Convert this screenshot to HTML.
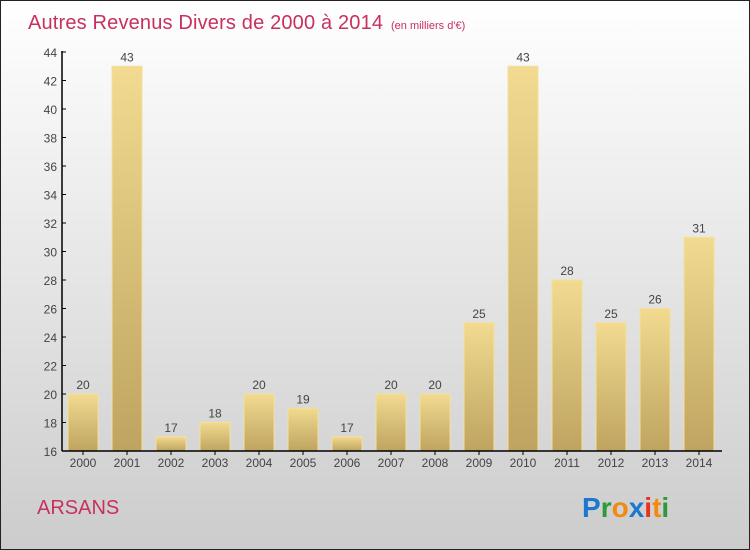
<!DOCTYPE html>
<html><head><meta charset="utf-8"><style>
body{margin:0;}
#wrap{position:relative;width:750px;height:550px;box-sizing:border-box;border:1px solid #222;background:linear-gradient(#fff,#ccc);font-family:"Liberation Sans",sans-serif;overflow:hidden}
</style></head><body>
<div id="wrap">
<svg width="748" height="548" style="position:absolute;left:0;top:0">
<defs>
<linearGradient id="bg" x1="0" y1="0" x2="0" y2="1"><stop offset="0" stop-color="#f2da90"/><stop offset="1" stop-color="#bea460"/></linearGradient>
</defs>
<text x="27" y="28" font-size="20" fill="#c8305e" textLength="355">Autres Revenus Divers de 2000 à 2014</text>
<text x="390" y="28" font-size="11" fill="#c8305e">(en milliers d'€)</text>
<g id="yax"></g>
<g id="bars"></g>
<g id="xax"></g>
<text x="36" y="513" font-size="20" fill="#c8305e">ARSANS</text>
<text x="581" y="516" font-size="28" font-weight="bold"><tspan fill="#1a78d0">P</tspan><tspan fill="#2a9a3a">r</tspan><tspan fill="#f08a10">o</tspan><tspan fill="#1a78d0">x</tspan><tspan fill="#e83020">i</tspan><tspan fill="#f08a10">t</tspan><tspan fill="#2a9a3a">i</tspan></text>
</svg>
</div>
<script>
const years=["2000","2001","2002","2003","2004","2005","2006","2007","2008","2009","2010","2011","2012","2013","2014"];
const values=[20,43,17,18,20,19,17,20,20,25,43,28,25,26,31];
const yTicks=[16,18,20,22,24,26,28,30,32,34,36,38,40,42,44];
const NS="http://www.w3.org/2000/svg";
const y=v=>450-(v-16)*(399/28);
const x=i=>67+i*44;
function mk(t,a,p){const e=document.createElementNS(NS,t);for(const k in a)e.setAttribute(k,a[k]);p.appendChild(e);return e;}
const ya=document.getElementById('yax'),xa=document.getElementById('xax'),bg=document.getElementById('bars');
mk('line',{x1:61,y1:50,x2:61,y2:450,stroke:'#000','stroke-width':1.5},ya);
yTicks.forEach(t=>{
 mk('line',{x1:61,y1:y(t),x2:65,y2:y(t),stroke:'#000'},ya);
 const tx=mk('text',{x:56,y:y(t)+5,'font-size':12,fill:'#444','text-anchor':'end'},ya);
 
 
 tx.textContent=t;
});
mk('line',{x1:61,y1:450,x2:721,y2:450,stroke:'#000','stroke-width':1.5},xa);
values.forEach((v,i)=>{
 const r=mk('rect',{x:x(i),y:y(v),width:30,height:450-y(v),fill:'url(#bg)',stroke:'#f5e09a','stroke-width':1},bg);
 
 
 const vl=mk('text',{x:x(i)+15,y:y(v)-5,'font-size':12,fill:'#444','text-anchor':'middle'},bg);
 
 
 vl.textContent=v;
 mk('line',{x1:x(i)+15,y1:450,x2:x(i)+15,y2:454,stroke:'#000'},xa);
 const xl=mk('text',{x:x(i)+15,y:466,'font-size':12,fill:'#444','text-anchor':'middle'},xa);
 
 
 xl.textContent=years[i];
});
</script>
</body></html>
